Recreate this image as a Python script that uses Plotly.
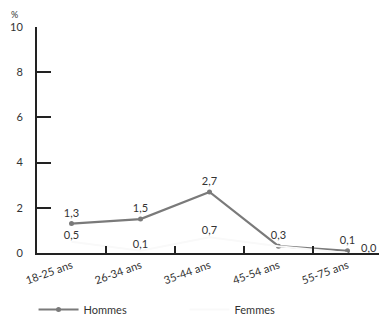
import plotly.graph_objects as go

categories = ["18-25 ans", "26-34 ans", "35-44 ans", "45-54 ans", "55-75 ans"]
hommes = [1.3, 1.5, 2.7, 0.3, 0.1]
femmes = [0.5, 0.1, 0.7, 0.3, 0.0]
y_ticks = [0, 2, 4, 6, 8, 10]

font = dict(family="Lato, DejaVu Sans, sans-serif", size=11, color="#333")

def fmt(v):
    return f"{v:.1f}".replace(".", ",")

fig = go.Figure()
fig.add_trace(go.Scatter(
    x=categories, y=hommes, name="Hommes", mode="lines+markers+text",
    line=dict(color="#7a7a7a", width=2.2), marker=dict(size=5, color="#7a7a7a"),
    text=[fmt(v) for v in hommes],
    textposition="top center", textfont=font, cliponaxis=False,
))
# Femmes labels: 45-54 coincides with Hommes label, last one placed as annotation
femmes_text = [fmt(v) if i < 3 else "" for i, v in enumerate(femmes)]
fig.add_trace(go.Scatter(
    x=categories, y=femmes, name="Femmes", mode="lines+text",
    line=dict(color="#f9f9f9", width=2),
    text=femmes_text, textposition="top center",
    textfont=font, cliponaxis=False,
))

fig.update_layout(
    width=379, height=316,
    margin=dict(l=29, r=5, t=19, b=71, autoexpand=False),
    paper_bgcolor="white", plot_bgcolor="white",
    font=font,
    showlegend=True,
    legend=dict(orientation="h", x=-0.01, xanchor="left", y=-0.25, yanchor="middle",
                entrywidth=96, font=font, itemwidth=40),
    annotations=[
        dict(text="%", xref="paper", yref="paper", x=-0.065, y=1.085,
             xanchor="center", yanchor="top", showarrow=False, borderpad=0,
             font=dict(family=font["family"], size=9, color="#333")),
        dict(text=fmt(femmes[4]), x=categories[4], y=femmes[4], xref="x", yref="y",
             xanchor="left", yanchor="bottom", xshift=12, yshift=-2, showarrow=False,
             borderpad=0, font=font),
    ],
)
fig.update_xaxes(
    type="category", range=[-0.5, 4.5], showgrid=False, zeroline=False,
    showline=True, linecolor="#222", linewidth=2, automargin=False,
    ticks="inside", tickson="boundaries", ticklen=7, tickwidth=2, tickcolor="#222",
    tickangle=-20, tickfont=font,
)
fig.update_yaxes(
    range=[0, 10], tickvals=y_ticks, showgrid=False, zeroline=False,
    showline=True, linecolor="#222", linewidth=2, automargin=False,
    ticks="inside", ticklen=14, tickwidth=2, tickcolor="#222", tickfont=font,
    ticklabelstandoff=10,
)
fig.write_html("out.html")
